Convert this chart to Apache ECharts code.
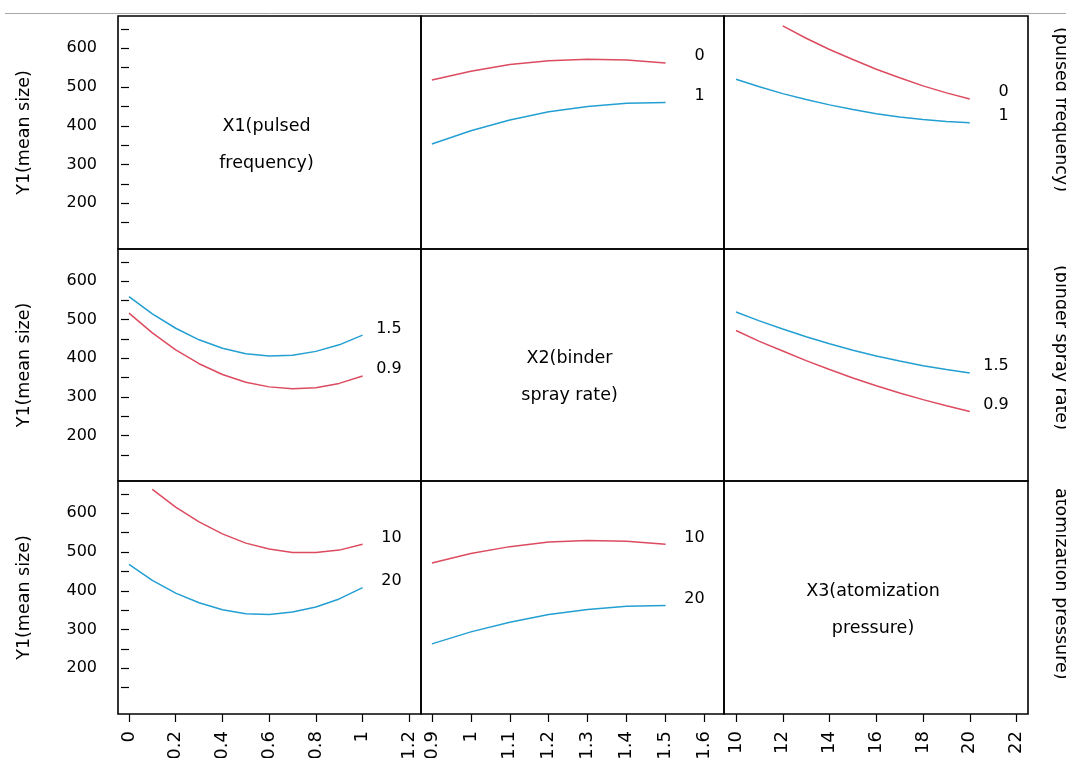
<!DOCTYPE html>
<html>
<head>
<meta charset="utf-8">
<script src="https://cdn.jsdelivr.net/npm/echarts@6/dist/echarts.min.js"></script>
<style>
html,body{margin:0;padding:0;background:#ffffff;}
#chart{width:1066px;height:758px;}
</style>
</head>
<body>
<div id="chart"></div>
<script>
// ---------- data ----------
const x1Levels = [0, 0.1, 0.2, 0.3, 0.4, 0.5, 0.6, 0.7, 0.8, 0.9, 1];
const x2Levels = [0.9, 1.0, 1.1, 1.2, 1.3, 1.4, 1.5];
const x3Levels = [10, 11, 12, 13, 14, 15, 16, 17, 18, 19, 20];

// Row 1: X1 held at 0 / 1
const y1VsX2AtX1_0 = [518, 541, 558, 568, 572, 570, 562];
const y1VsX2AtX1_1 = [353, 387, 415, 436, 450, 458, 460];
const y1VsX3AtX1_0 = [null, null, 658, 626, 597, 571, 546, 524, 503, 485, 469];
const y1VsX3AtX1_1 = [520, 501, 483, 468, 454, 442, 431, 423, 416, 411, 408];
// Row 2: X2 held at 1.5 / 0.9
const y1VsX1AtX2_15 = [560, 515, 478, 448, 426, 412, 406, 408, 418, 435, 460];
const y1VsX1AtX2_09 = [517, 466, 422, 386, 358, 338, 326, 321, 324, 335, 354];
const y1VsX3AtX2_15 = [520, 497, 476, 456, 438, 421, 406, 393, 381, 371, 362];
const y1VsX3AtX2_09 = [472, 444, 419, 394, 371, 349, 329, 310, 293, 277, 262];
// Row 3: X3 held at 10 / 20
const y1VsX1AtX3_10 = [null, 662, 616, 578, 547, 523, 508, 499, 499, 505, 520];
const y1VsX1AtX3_20 = [468, 427, 394, 369, 351, 341, 339, 345, 358, 379, 408];
const y1VsX2AtX3_10 = [472, 496, 514, 526, 530, 528, 520];
const y1VsX2AtX3_20 = [263, 294, 319, 339, 352, 360, 362];

// axis ticks / labels
const x1Ticks = [0, 0.2, 0.4, 0.6, 0.8, 1, 1.2];
const x2Ticks = [0.9, 1, 1.1, 1.2, 1.3, 1.4, 1.5, 1.6];
const x3Ticks = [10, 12, 14, 16, 18, 20, 22];
const yLabelValues = [200, 300, 400, 500, 600];
const yTickValues = [150, 200, 250, 300, 350, 400, 450, 500, 550, 600, 650];
const yAxisTitle = 'Y1(mean size)';
const diagTitles = ['X1(pulsed\nfrequency)', 'X2(binder\nspray rate)', 'X3(atomization\npressure)'];
const sideTitles = ['(pulsed frequency)', '(binder spray rate)', 'atomization pressure)'];

// ---------- layout / style ----------
const FONT = 'DejaVu Sans';
const RED = '#DC4B5F';
const BLUE = '#239FD2';
const colLeft = [118, 421, 724];
const colWidth = [303, 303, 304];
const rowTop = [16, 249, 481];
const rowHeight = [233, 232, 233];
const colRange = [
  {min: -0.047, max: 1.25, ticks: x1Ticks},
  {min: 0.872, max: 1.65, ticks: x2Ticks},
  {min: 9.487, max: 22.49, ticks: x3Ticks}
];
const yMin = 82, yMax = 683.4;

const grids = [], xAxes = [], yAxes = [];
for (let r = 0; r < 3; r++) {
  for (let c = 0; c < 3; c++) {
    const i = r * 3 + c;
    grids.push({
      left: colLeft[c], top: rowTop[r], width: colWidth[c], height: rowHeight[r],
      show: true, borderColor: '#000', borderWidth: 1.6, backgroundColor: 'transparent',
      containLabel: false, outerBoundsMode: 'none'
    });
    xAxes.push({
      type: 'value', gridIndex: i, min: colRange[c].min, max: colRange[c].max,
      axisLine: {show: false}, splitLine: {show: false},
      axisTick: {show: r === 2, customValues: colRange[c].ticks, length: 8, lineStyle: {color: '#000', width: 1.2}},
      axisLabel: {show: r === 2, customValues: colRange[c].ticks, rotate: 90, margin: 17,
        color: '#000', fontSize: 18, fontFamily: FONT}
    });
    yAxes.push({
      type: 'value', gridIndex: i, min: yMin, max: yMax,
      axisLine: {show: false}, splitLine: {show: false},
      axisTick: {show: c === 0, customValues: yTickValues, length: 8, lineStyle: {color: '#000', width: 1.2}},
      axisLabel: {show: c === 0, customValues: yLabelValues, margin: 21,
        color: '#000', fontSize: 16, fontFamily: FONT},
      name: c === 0 ? yAxisTitle : '', nameLocation: 'middle', nameGap: 85, nameRotate: 90,
      nameTextStyle: {color: '#000', fontSize: 17.5, fontFamily: FONT}
    });
  }
}

function pts(xs, ys) {
  const out = [];
  xs.forEach((x, k) => { if (ys[k] !== null) out.push([x, ys[k]]); });
  return out;
}
function lineSeries(panel, name, xs, ys, color) {
  return {
    type: 'line', name: name, xAxisIndex: panel, yAxisIndex: panel,
    data: pts(xs, ys), showSymbol: false, symbol: 'none', silent: true,
    lineStyle: {color: color, width: 1.5}, itemStyle: {color: color},
    endLabel: {show: true, formatter: p => p.seriesName, align: 'right', verticalAlign: 'bottom',
      lineHeight: 13.5, distance: 39, color: '#000', fontSize: 16, fontFamily: FONT}
  };
}

const series = [
  lineSeries(1, '0', x2Levels, y1VsX2AtX1_0, RED),
  lineSeries(1, '1', x2Levels, y1VsX2AtX1_1, BLUE),
  lineSeries(2, '0', x3Levels, y1VsX3AtX1_0, RED),
  lineSeries(2, '1', x3Levels, y1VsX3AtX1_1, BLUE),
  lineSeries(3, '1.5', x1Levels, y1VsX1AtX2_15, BLUE),
  lineSeries(3, '0.9', x1Levels, y1VsX1AtX2_09, RED),
  lineSeries(5, '1.5', x3Levels, y1VsX3AtX2_15, BLUE),
  lineSeries(5, '0.9', x3Levels, y1VsX3AtX2_09, RED),
  lineSeries(6, '10', x1Levels, y1VsX1AtX3_10, RED),
  lineSeries(6, '20', x1Levels, y1VsX1AtX3_20, BLUE),
  lineSeries(7, '10', x2Levels, y1VsX2AtX3_10, RED),
  lineSeries(7, '20', x2Levels, y1VsX2AtX3_20, BLUE)
];

const graphic = [
  {type: 'line', shape: {x1: 5, y1: 13.5, x2: 1066, y2: 13.5}, style: {stroke: '#a8a8a8', lineWidth: 1}, silent: true}
];
for (let d = 0; d < 3; d++) {
  graphic.push({
    type: 'text', silent: true,
    x: colLeft[d] + colWidth[d] / 2 - 3, y: rowTop[d] + rowHeight[d] / 2 + 12,
    style: {text: diagTitles[d], align: 'center', verticalAlign: 'middle', lineHeight: 37,
      fontSize: 17.5, fontFamily: FONT, fill: '#000'}
  });
}
const sideStart = [27, 265, 488];
for (let r = 0; r < 3; r++) {
  graphic.push({
    type: 'text', silent: true, x: 1061, y: sideStart[r], rotation: -Math.PI / 2,
    style: {text: sideTitles[r], align: 'left', verticalAlign: 'middle',
      fontSize: 17.5, fontFamily: FONT, fill: '#000'}
  });
}

const chart = echarts.init(document.getElementById('chart'), null, {renderer: 'canvas'});
chart.setOption({
  animation: false,
  backgroundColor: '#ffffff',
  grid: grids, xAxis: xAxes, yAxis: yAxes, series: series, graphic: graphic
});
</script>
</body>
</html>
